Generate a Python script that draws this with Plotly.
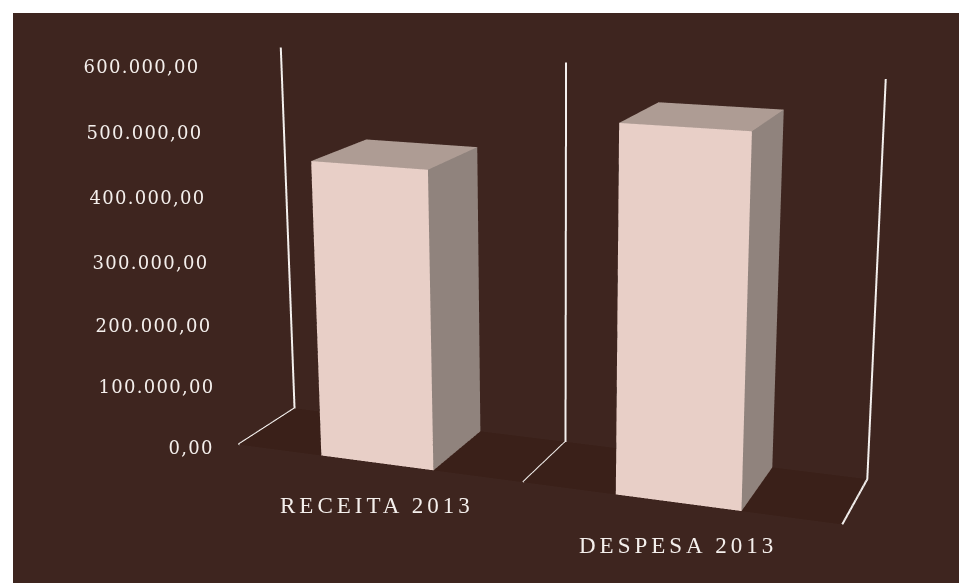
import plotly.graph_objects as go

# Chart data
categories = ["RECEITA 2013", "DESPESA 2013"]
values = [462000, 548000]
tick_values = [0, 100000, 200000, 300000, 400000, 500000, 600000]
tick_labels = ["0,00", "100.000,00", "200.000,00", "300.000,00",
               "400.000,00", "500.000,00", "600.000,00"]

# Styling
BG = "#3E251F"
FLOOR = "#3A2019"
FRONT = "#E8CFC7"
SIDE = "#90837D"
TOP = "#AE9C94"
LINE = "#F4F0EE"
TEXT = "#F4EFEC"

BAR_HALF = 0.197
FIG_W, FIG_H = 959, 1523
OFFSET = 483  # how far the tall figure is lifted inside the window
LIGHT = dict(ambient=1, diffuse=0, specular=0, fresnel=0, roughness=1)


def cuboid(x0, x1, y0, y1, z0, z1, front, side, top):
    """Mesh3d box; every face carries its own flat colour."""
    xs = [x0, x1, x1, x0, x0, x1, x1, x0]
    ys = [y0, y0, y1, y1, y0, y0, y1, y1]
    zs = [z0, z0, z0, z0, z1, z1, z1, z1]
    faces = [
        (0, 1, 5, front), (0, 5, 4, front),
        (1, 2, 6, side), (1, 6, 5, side),
        (4, 5, 6, top), (4, 6, 7, top),
        (3, 2, 6, side), (3, 6, 7, side),
        (0, 3, 7, side), (0, 7, 4, side),
        (0, 1, 2, top), (0, 2, 3, top),
    ]
    return go.Mesh3d(
        x=xs, y=ys, z=zs,
        i=[f[0] for f in faces], j=[f[1] for f in faces], k=[f[2] for f in faces],
        facecolor=[f[3] for f in faces],
        flatshading=True, lighting=LIGHT, hoverinfo="skip", showscale=False,
    )


fig = go.Figure()

# Floor of the plot box
fig.add_trace(go.Mesh3d(
    x=[0, 2, 2, 0], y=[0, 0, 1, 1], z=[0, 0, 0, 0],
    i=[0, 0], j=[1, 2], k=[2, 3],
    facecolor=[FLOOR, FLOOR], flatshading=True, lighting=LIGHT,
    hoverinfo="skip", showscale=False,
))

# Category dividers: along the floor, then up the back wall
for pos in range(len(categories) + 1):
    fig.add_trace(go.Scatter3d(
        x=[pos, pos, pos], y=[0, 1, 1], z=[0, 0, max(tick_values)],
        mode="lines", line=dict(color=LINE, width=4),
        hoverinfo="skip", showlegend=False,
    ))

for idx, val in enumerate(values):
    centre = idx + 0.5
    fig.add_trace(cuboid(centre - BAR_HALF, centre + BAR_HALF, 0, 1, 0, val,
                         FRONT, SIDE, TOP))

annotations = []
for val, label in zip(tick_values, tick_labels):
    annotations.append(dict(
        x=0, y=0, z=val, text=label, showarrow=False, xanchor="right",
        xshift=-26, yshift=-3, font=dict(family="DejaVu Serif", size=18, color=TEXT),
    ))
for idx, name in enumerate(categories):
    annotations.append(dict(
        x=idx + 0.5, y=0, z=0, text=name, showarrow=False,
        yshift=-43, font=dict(family="Liberation Serif", size=23, color=TEXT),
    ))

hidden = dict(visible=False, showgrid=False, zeroline=False, showticklabels=False,
              showspikes=False)
fig.update_layout(
    width=FIG_W, height=FIG_H, autosize=False,
    margin=dict(l=0, r=0, t=0, b=0, pad=0),
    paper_bgcolor="white", showlegend=False, hovermode=False,
    shapes=[dict(type="rect", xref="paper", yref="paper", layer="below",
                 x0=13 / FIG_W, x1=1,
                 y0=1 - (OFFSET + 583) / FIG_H, y1=1 - (OFFSET + 13) / FIG_H,
                 fillcolor=BG, line=dict(width=0))],
    scene=dict(
        domain=dict(x=[170.4 / FIG_W, 1], y=[0, 1]),
        bgcolor="rgba(0,0,0,0)",
        xaxis=dict(range=[0, 2], **hidden),
        yaxis=dict(range=[0, 1], **hidden),
        zaxis=dict(range=[0, 600000], **hidden),
        aspectmode="manual",
        aspectratio=dict(x=0.9948, y=0.19449, z=0.62433),
        camera=dict(
            eye=dict(x=0.95886, y=-2.58281, z=0.71645),
            center=dict(x=0.02997, y=0.00776, z=-0.01027),
            up=dict(x=-0.08741, y=0.23988, z=0.96686),
        ),
        annotations=annotations,
    ),
)

# Lift the tall figure into the window and space out the label text
n_ticks = len(tick_labels)
cat_rules = ",".join('[data-index="%d"] .annotation-text' % (n_ticks + i)
                     for i in range(len(categories)))
post = """
var gd = document.getElementById('{plot_id}');
document.documentElement.style.overflow = 'hidden';
document.body.style.overflow = 'hidden';
document.body.style.margin = '0';
gd.style.position = 'absolute';
gd.style.left = '0';
gd.style.top = '-%dpx';
var css = document.createElement('style');
css.textContent = '.annotation-text{letter-spacing:1.3px} %s{letter-spacing:4px}';
document.head.appendChild(css);
""" % (OFFSET, cat_rules)

fig.write_html("out.html", post_script=post)
